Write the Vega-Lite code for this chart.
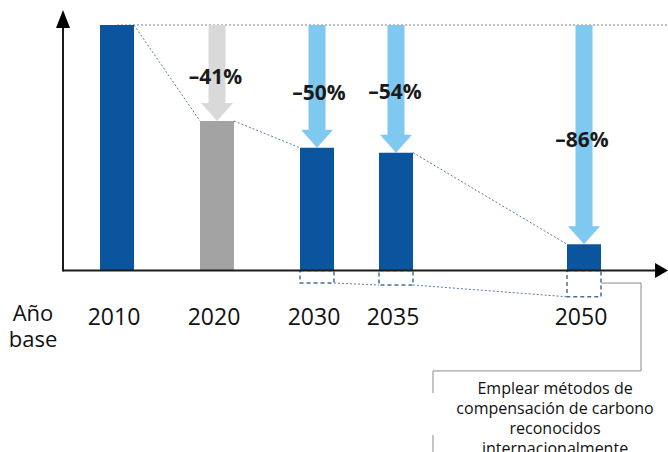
{
  "$schema": "https://vega.github.io/schema/vega-lite/v6.json",
  "width": 668,
  "height": 452,
  "padding": 0,
  "autosize": "none",
  "background": "white",
  "config": {
    "view": {"stroke": null},
    "axis": {"disable": true},
    "legend": {"disable": true},
    "text": {"font": "Open Sans"}
  },
  "datasets": {
    "bars": [
      {"year": 2010, "value": 100, "status": "base", "comp": null},
      {"year": 2020, "value": 60.9, "status": "actual", "comp": null},
      {"year": 2030, "value": 50.0, "status": "meta", "comp": -5.1},
      {"year": 2035, "value": 48.0, "status": "meta", "comp": -5.9},
      {"year": 2050, "value": 10.7, "status": "meta", "comp": -10.7}
    ],
    "links": [
      {"from": 2010, "to": 2020, "v1": 100, "v2": 60.9},
      {"from": 2020, "to": 2030, "v1": 60.9, "v2": 50.0},
      {"from": 2035, "to": 2050, "v1": 48.0, "v2": 10.7},
      {"from": 2030, "to": 2035, "v1": -5.1, "v2": -5.9},
      {"from": 2035, "to": 2050, "v1": -5.9, "v2": -10.7}
    ],
    "note": [
      {"text": "Emplear métodos de\ncompensación de carbono\nreconocidos\ninternacionalmente"}
    ],
    "side": [
      {"text": "Año\nbase"}
    ]
  },
  "layer": [
    {
      "data": {"values": [{}]},
      "mark": {"type": "rule", "color": "#808080", "strokeDash": [2, 2], "strokeWidth": 1},
      "encoding": {
        "x": {"datum": 2010, "type": "quantitative", "scale": {"type": "linear", "domain": [2010, 2020, 2030, 2035, 2050], "range": [117, 217, 317, 396, 584], "nice": false, "zero": false, "padding": 0}},
        "x2": {"datum": 2057},
        "y": {"datum": 100, "type": "quantitative", "scale": {"domain": [-73.93, 110.18], "nice": false, "zero": false, "padding": 0}}
      }
    },
    {
      "data": {"name": "links"},
      "mark": {"type": "rule", "color": "#5b7da5", "strokeDash": [2, 2], "strokeWidth": 1, "xOffset": 17, "x2Offset": -17},
      "encoding": {
        "x": {"field": "from", "type": "quantitative", "scale": {"type": "linear", "domain": [2010, 2020, 2030, 2035, 2050], "range": [117, 217, 317, 396, 584], "nice": false, "zero": false, "padding": 0}},
        "x2": {"field": "to"},
        "y": {"field": "v1", "type": "quantitative", "scale": {"domain": [-73.93, 110.18], "nice": false, "zero": false, "padding": 0}},
        "y2": {"field": "v2"}
      }
    },
    {
      "data": {"name": "bars"},
      "transform": [{"filter": "datum.year > 2010"}],
      "mark": {"type": "bar", "orient": "vertical", "width": 17, "yOffset": -17},
      "encoding": {
        "x": {"field": "year", "type": "quantitative", "scale": {"type": "linear", "domain": [2010, 2020, 2030, 2035, 2050], "range": [117, 217, 317, 396, 584], "nice": false, "zero": false, "padding": 0}},
        "y": {"field": "value", "type": "quantitative", "scale": {"domain": [-73.93, 110.18], "nice": false, "zero": false, "padding": 0}},
        "y2": {"datum": 100},
        "color": {"condition": {"test": "datum.status === 'actual'", "value": "#d9d9d9"}, "value": "#7fc8f0"}
      }
    },
    {
      "data": {"name": "bars"},
      "transform": [{"filter": "datum.year > 2010"}],
      "mark": {"type": "point", "shape": "M-1,-1.125L1,-1.125L0,0Z", "size": 1024, "filled": true, "opacity": 1, "strokeWidth": 0},
      "encoding": {
        "x": {"field": "year", "type": "quantitative", "scale": {"type": "linear", "domain": [2010, 2020, 2030, 2035, 2050], "range": [117, 217, 317, 396, 584], "nice": false, "zero": false, "padding": 0}},
        "y": {"field": "value", "type": "quantitative", "scale": {"domain": [-73.93, 110.18], "nice": false, "zero": false, "padding": 0}},
        "color": {"condition": {"test": "datum.status === 'actual'", "value": "#d9d9d9"}, "value": "#7fc8f0"}
      }
    },
    {
      "data": {"name": "bars"},
      "mark": {"type": "bar", "orient": "vertical", "width": 34},
      "encoding": {
        "x": {"field": "year", "type": "quantitative", "scale": {"type": "linear", "domain": [2010, 2020, 2030, 2035, 2050], "range": [117, 217, 317, 396, 584], "nice": false, "zero": false, "padding": 0}},
        "y": {"field": "value", "type": "quantitative", "scale": {"domain": [-73.93, 110.18], "nice": false, "zero": false, "padding": 0}},
        "color": {"condition": {"test": "datum.status === 'actual'", "value": "#a3a3a3"}, "value": "#0b559f"}
      }
    },
    {
      "data": {"name": "bars"},
      "transform": [{"filter": "datum.comp != null"}],
      "mark": {"type": "bar", "orient": "vertical", "width": 34, "fill": "transparent", "stroke": "#4a6f9b", "strokeDash": [4, 3], "strokeWidth": 1.5},
      "encoding": {
        "x": {"field": "year", "type": "quantitative", "scale": {"type": "linear", "domain": [2010, 2020, 2030, 2035, 2050], "range": [117, 217, 317, 396, 584], "nice": false, "zero": false, "padding": 0}},
        "y": {"field": "comp", "type": "quantitative", "scale": {"domain": [-73.93, 110.18], "nice": false, "zero": false, "padding": 0}}
      }
    },
    {
      "data": {"values": [{}]},
      "mark": {"type": "rule", "color": "#1a1a1a", "strokeWidth": 2},
      "encoding": {
        "x": {"datum": 2004.6, "type": "quantitative", "scale": {"type": "linear", "domain": [2010, 2020, 2030, 2035, 2050], "range": [117, 217, 317, 396, 584], "nice": false, "zero": false, "padding": 0}},
        "y": {"datum": -0.4, "type": "quantitative", "scale": {"domain": [-73.93, 110.18], "nice": false, "zero": false, "padding": 0}},
        "y2": {"datum": 98.8}
      }
    },
    {
      "data": {"values": [{}]},
      "mark": {"type": "rule", "color": "#1a1a1a", "strokeWidth": 2},
      "encoding": {
        "x": {"datum": 2004.6, "type": "quantitative", "scale": {"type": "linear", "domain": [2010, 2020, 2030, 2035, 2050], "range": [117, 217, 317, 396, 584], "nice": false, "zero": false, "padding": 0}},
        "x2": {"datum": 2055.7},
        "y": {"datum": 0, "type": "quantitative", "scale": {"domain": [-73.93, 110.18], "nice": false, "zero": false, "padding": 0}}
      }
    },
    {
      "data": {"values": [{}]},
      "mark": {"type": "point", "shape": "M-1,0L1,0L0,-2.57Z", "size": 196, "filled": true, "opacity": 1, "strokeWidth": 0, "color": "#000000"},
      "encoding": {
        "x": {"datum": 2004.6, "type": "quantitative", "scale": {"type": "linear", "domain": [2010, 2020, 2030, 2035, 2050], "range": [117, 217, 317, 396, 584], "nice": false, "zero": false, "padding": 0}},
        "y": {"datum": 98.8, "type": "quantitative", "scale": {"domain": [-73.93, 110.18], "nice": false, "zero": false, "padding": 0}}
      }
    },
    {
      "data": {"values": [{}]},
      "mark": {"type": "point", "shape": "M0,-1L1.73,0L0,1Z", "size": 225, "filled": true, "opacity": 1, "strokeWidth": 0, "color": "#000000"},
      "encoding": {
        "x": {"datum": 2055.67, "type": "quantitative", "scale": {"type": "linear", "domain": [2010, 2020, 2030, 2035, 2050], "range": [117, 217, 317, 396, 584], "nice": false, "zero": false, "padding": 0}},
        "y": {"datum": 0, "type": "quantitative", "scale": {"domain": [-73.93, 110.18], "nice": false, "zero": false, "padding": 0}}
      }
    },
    {
      "data": {"values": [{}]},
      "mark": {"type": "rule", "color": "#8c8c8c", "strokeWidth": 1, "xOffset": 17},
      "encoding": {
        "x": {"datum": 2050, "type": "quantitative", "scale": {"type": "linear", "domain": [2010, 2020, 2030, 2035, 2050], "range": [117, 217, 317, 396, 584], "nice": false, "zero": false, "padding": 0}},
        "x2": {"datum": 2054.55},
        "y": {"datum": -5.1, "type": "quantitative", "scale": {"domain": [-73.93, 110.18], "nice": false, "zero": false, "padding": 0}}
      }
    },
    {
      "data": {"values": [{}]},
      "mark": {"type": "rule", "color": "#8c8c8c", "strokeWidth": 1},
      "encoding": {
        "x": {"datum": 2054.55, "type": "quantitative", "scale": {"type": "linear", "domain": [2010, 2020, 2030, 2035, 2050], "range": [117, 217, 317, 396, 584], "nice": false, "zero": false, "padding": 0}},
        "y": {"datum": -5.1, "type": "quantitative", "scale": {"domain": [-73.93, 110.18], "nice": false, "zero": false, "padding": 0}},
        "y2": {"datum": -40.9}
      }
    },
    {
      "data": {"values": [{}]},
      "mark": {"type": "rule", "color": "#8c8c8c", "strokeWidth": 1},
      "encoding": {
        "x": {"datum": 2037.95, "type": "quantitative", "scale": {"type": "linear", "domain": [2010, 2020, 2030, 2035, 2050], "range": [117, 217, 317, 396, 584], "nice": false, "zero": false, "padding": 0}},
        "x2": {"datum": 2054.55},
        "y": {"datum": -40.9, "type": "quantitative", "scale": {"domain": [-73.93, 110.18], "nice": false, "zero": false, "padding": 0}}
      }
    },
    {
      "data": {"values": [{}]},
      "mark": {"type": "rule", "color": "#8c8c8c", "strokeWidth": 1},
      "encoding": {
        "x": {"datum": 2037.95, "type": "quantitative", "scale": {"type": "linear", "domain": [2010, 2020, 2030, 2035, 2050], "range": [117, 217, 317, 396, 584], "nice": false, "zero": false, "padding": 0}},
        "y": {"datum": -40.9, "type": "quantitative", "scale": {"domain": [-73.93, 110.18], "nice": false, "zero": false, "padding": 0}},
        "y2": {"datum": -49.9}
      }
    },
    {
      "data": {"values": [{}]},
      "mark": {"type": "rule", "color": "#8c8c8c", "strokeWidth": 1},
      "encoding": {
        "x": {"datum": 2037.95, "type": "quantitative", "scale": {"type": "linear", "domain": [2010, 2020, 2030, 2035, 2050], "range": [117, 217, 317, 396, 584], "nice": false, "zero": false, "padding": 0}},
        "y": {"datum": -67.0, "type": "quantitative", "scale": {"domain": [-73.93, 110.18], "nice": false, "zero": false, "padding": 0}},
        "y2": {"datum": -73.9}
      }
    },
    {
      "data": {"values": [{}]},
      "mark": {"type": "text", "fontSize": 21, "fontWeight": "bold", "color": "#1a1a1a", "baseline": "middle"},
      "encoding": {
        "x": {"datum": 2019.85, "type": "quantitative", "scale": {"type": "linear", "domain": [2010, 2020, 2030, 2035, 2050], "range": [117, 217, 317, 396, 584], "nice": false, "zero": false, "padding": 0}},
        "y": {"datum": 78.3, "type": "quantitative", "scale": {"domain": [-73.93, 110.18], "nice": false, "zero": false, "padding": 0}},
        "text": {"value": "–41%"}
      }
    },
    {
      "data": {"values": [{}]},
      "mark": {"type": "text", "fontSize": 21, "fontWeight": "bold", "color": "#1a1a1a", "baseline": "middle"},
      "encoding": {
        "x": {"datum": 2030.13, "type": "quantitative", "scale": {"type": "linear", "domain": [2010, 2020, 2030, 2035, 2050], "range": [117, 217, 317, 396, 584], "nice": false, "zero": false, "padding": 0}},
        "y": {"datum": 71.8, "type": "quantitative", "scale": {"domain": [-73.93, 110.18], "nice": false, "zero": false, "padding": 0}},
        "text": {"value": "–50%"}
      }
    },
    {
      "data": {"values": [{}]},
      "mark": {"type": "text", "fontSize": 21, "fontWeight": "bold", "color": "#1a1a1a", "baseline": "middle"},
      "encoding": {
        "x": {"datum": 2034.94, "type": "quantitative", "scale": {"type": "linear", "domain": [2010, 2020, 2030, 2035, 2050], "range": [117, 217, 317, 396, 584], "nice": false, "zero": false, "padding": 0}},
        "y": {"datum": 72.3, "type": "quantitative", "scale": {"domain": [-73.93, 110.18], "nice": false, "zero": false, "padding": 0}},
        "text": {"value": "–54%"}
      }
    },
    {
      "data": {"values": [{}]},
      "mark": {"type": "text", "fontSize": 21, "fontWeight": "bold", "color": "#1a1a1a", "baseline": "middle"},
      "encoding": {
        "x": {"datum": 2049.84, "type": "quantitative", "scale": {"type": "linear", "domain": [2010, 2020, 2030, 2035, 2050], "range": [117, 217, 317, 396, 584], "nice": false, "zero": false, "padding": 0}},
        "y": {"datum": 52.9, "type": "quantitative", "scale": {"domain": [-73.93, 110.18], "nice": false, "zero": false, "padding": 0}},
        "text": {"value": "–86%"}
      }
    },
    {
      "data": {"name": "bars"},
      "mark": {"type": "text", "fontSize": 23, "color": "#111111", "baseline": "middle", "dx": -3},
      "encoding": {
        "x": {"field": "year", "type": "quantitative", "scale": {"type": "linear", "domain": [2010, 2020, 2030, 2035, 2050], "range": [117, 217, 317, 396, 584], "nice": false, "zero": false, "padding": 0}},
        "y": {"datum": -19.5, "type": "quantitative", "scale": {"domain": [-73.93, 110.18], "nice": false, "zero": false, "padding": 0}},
        "text": {"field": "year", "type": "nominal"}
      }
    },
    {
      "data": {"name": "side"},
      "mark": {"type": "text", "fontSize": 22, "color": "#111111", "baseline": "middle", "lineBreak": "\n", "lineHeight": 26},
      "encoding": {
        "x": {"datum": 2001.6, "type": "quantitative", "scale": {"type": "linear", "domain": [2010, 2020, 2030, 2035, 2050], "range": [117, 217, 317, 396, 584], "nice": false, "zero": false, "padding": 0}},
        "y": {"datum": -17.7, "type": "quantitative", "scale": {"domain": [-73.93, 110.18], "nice": false, "zero": false, "padding": 0}},
        "text": {"field": "text", "type": "nominal"}
      }
    },
    {
      "data": {"name": "note"},
      "mark": {"type": "text", "fontSize": 16, "color": "#111111", "baseline": "middle", "lineBreak": "\n", "lineHeight": 20},
      "encoding": {
        "x": {"datum": 2047.69, "type": "quantitative", "scale": {"type": "linear", "domain": [2010, 2020, 2030, 2035, 2050], "range": [117, 217, 317, 396, 584], "nice": false, "zero": false, "padding": 0}},
        "y": {"datum": -48.3, "type": "quantitative", "scale": {"domain": [-73.93, 110.18], "nice": false, "zero": false, "padding": 0}},
        "text": {"field": "text", "type": "nominal"}
      }
    }
  ]
}
